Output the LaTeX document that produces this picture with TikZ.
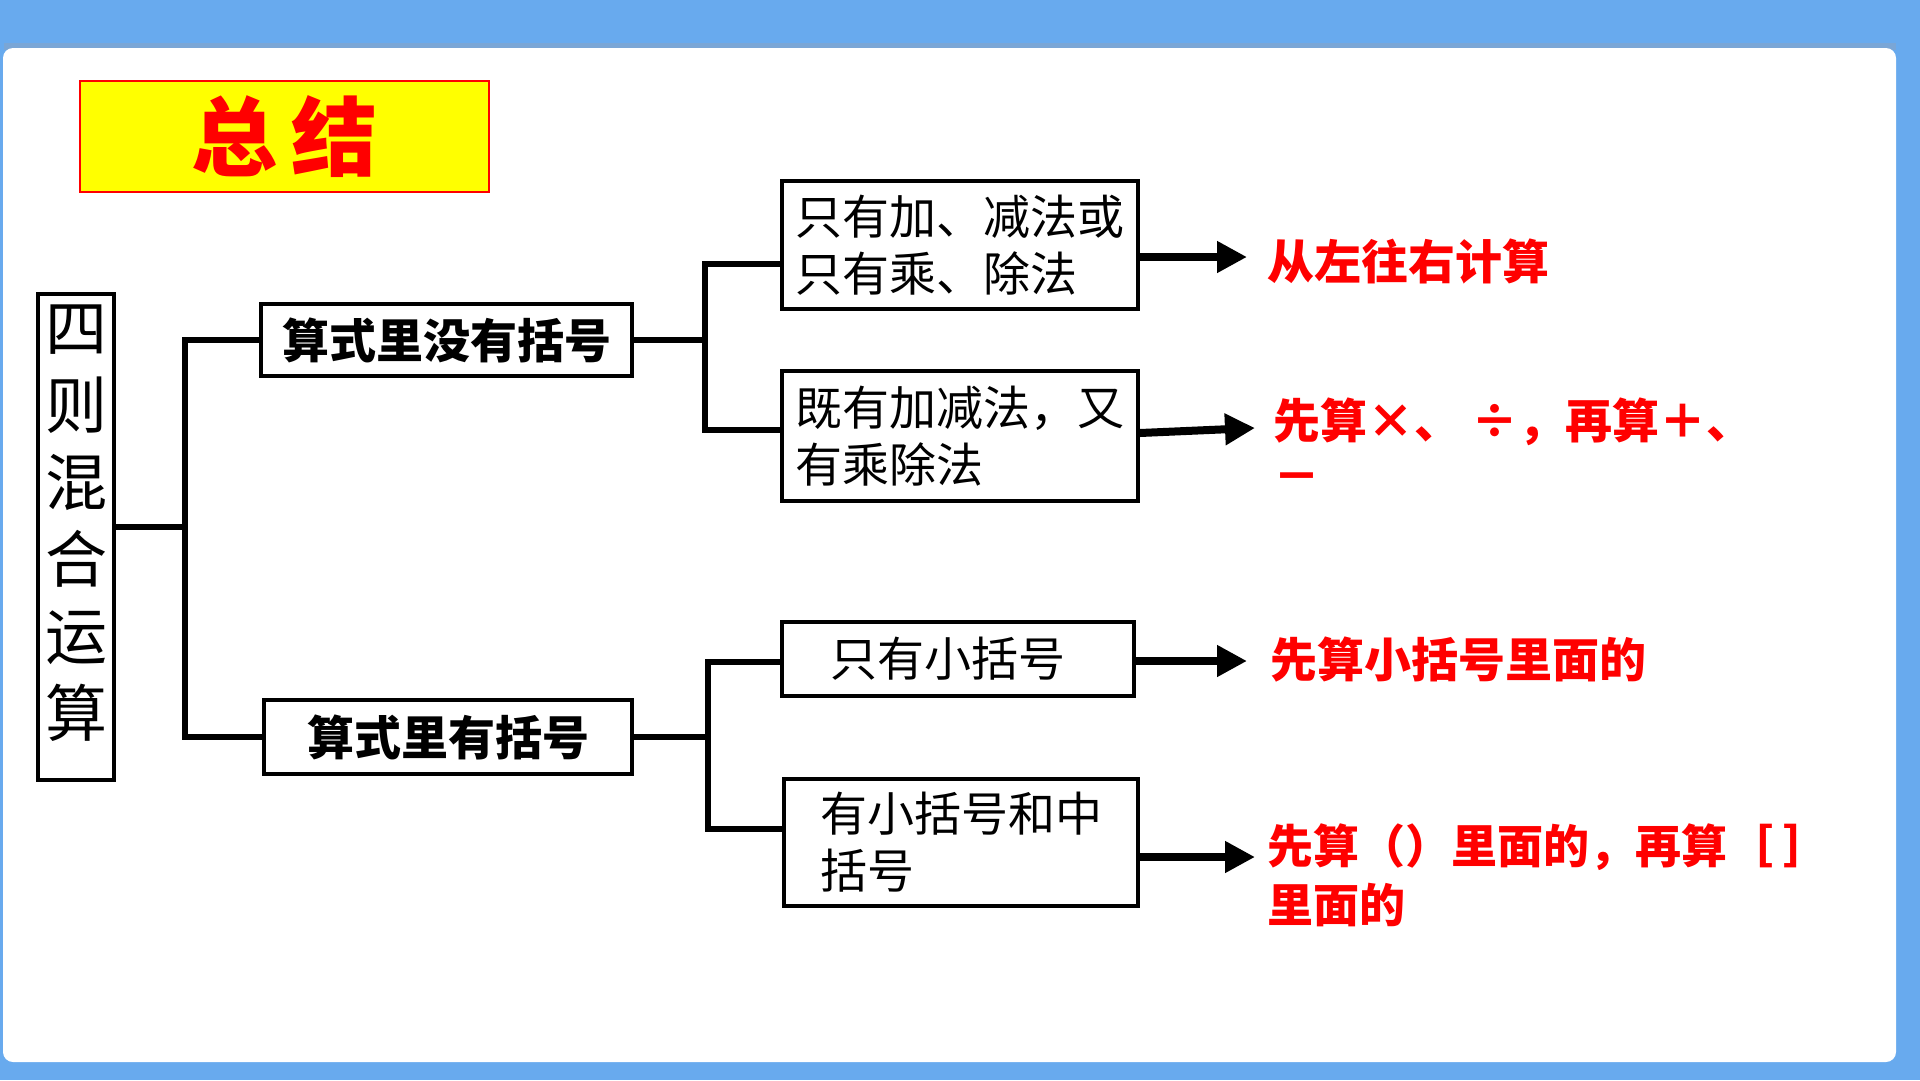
\documentclass[tikz,border=0pt]{standalone}
\usepackage{fontspec}
\newfontfamily\cjk{Noto Sans CJK SC}
\usetikzlibrary{arrows.meta}
\definecolor{bandblue}{HTML}{68AAEE}
\definecolor{bandshade}{HTML}{7AA6D6}
\definecolor{rred}{HTML}{FF0000}
\definecolor{tyellow}{HTML}{FFFF00}
\begin{document}
\begin{tikzpicture}[x=1pt,y=-1pt,
  box/.style={draw=black, line width=4pt, fill=white, inner sep=0pt, align=left,
    font=\cjk\fontsize{47}{57}\selectfont},
  boldbox/.style={box, font=\cjk\bfseries\fontsize{47}{57}\selectfont},
  conn/.style={draw=black, line width=5.5pt},
  arr/.style={draw=black, line width=8pt, -{Triangle[length=30pt,width=30pt]}},
  rtext/.style={text=rred, anchor=base west, inner sep=0pt, align=left,
    font=\cjk\bfseries\fontsize{47}{56}\selectfont}]
% background
\useasboundingbox (0,0) rectangle (1920,1080);
\fill[bandblue] (0,0) rectangle (1920,1080);
\fill[bandshade] (4,43) rectangle (1896,50);
\fill[white, rounded corners=10pt] (3,48) rectangle (1896,1062);
% title
\node[draw=rred, line width=1.5pt, fill=tyellow, minimum width=409pt, minimum height=111pt,
  inner sep=0pt, text=rred, font=\cjk\bfseries\fontsize{86}{90}\selectfont] (title) at (284.5,136.5) {总\hspace{14pt}结};
% root
\node[draw=black, line width=3.5pt, fill=white, minimum width=76pt, minimum height=486pt, inner sep=0pt] (root) at (76,537) {};
\node[inner sep=0pt, align=center, font=\cjk\fontsize{62}{77}\selectfont] (roottext) at (76,523) {四\\则\\混\\合\\运\\算};
% level 2
\node[boldbox, minimum width=371pt, minimum height=72pt] (A) at (446.5,340) {算式里没有括号};
\node[boldbox, minimum width=368pt, minimum height=74pt] (B) at (448,737) {算式里有括号};
% level 3
\node[box, minimum width=356pt, minimum height=128pt] (C) at (960,245) {只有加、减法或\\只有乘、除法};
\node[box, minimum width=356pt, minimum height=130pt] (D) at (960,436) {既有加减法，又\\有乘除法};
\node[box, minimum width=352pt, minimum height=74pt] (E) at (958,659) {只有小括号\hspace{20pt}};
\node[box, minimum width=354pt, minimum height=127pt] (F) at (961,842.5) {有小括号和中\\括号\hspace{16pt}};
% connectors
\coordinate (j0) at (185,527);
\draw[conn] (root.east |- j0) -- (j0);
\draw[conn] (A.west) -- (A.west -| j0) -- (B.west -| j0) -- (B.west);
\coordinate (kC) at (705,264);
\coordinate (kD) at (705,430);
\draw[conn] (A.east) -- (A.east -| kC);
\draw[conn] (C.west |- kC) -- (kC) -- (kD) -- (D.west |- kD);
\coordinate (kE) at (708,662);
\coordinate (kF) at (708,829);
\draw[conn] (B.east) -- (B.east -| kE);
\draw[conn] (E.west |- kE) -- (kE) -- (kF) -- (F.west |- kF);
% results
\node[rtext] (rC) at (1267,279) {从左往右计算};
\node[rtext, font=\cjk\bfseries\fontsize{47}{55}\selectfont] (rD) at (1273,493) {先算×、 ÷，再算＋、\\－};
\node[rtext] (rE) at (1270,677) {先算小括号里面的};
\node[rtext, font=\cjk\bfseries\fontsize{46}{59}\selectfont] (rF) at (1267,922) {先算（）里面的，再算［\hspace{10pt}］\\里面的};
% arrows
\coordinate (tC) at (1247,257);
\coordinate (tD) at (1255,428);
\coordinate (tE) at (1247,661);
\coordinate (tF) at (1255,857);
\draw[arr] (C.east |- tC) -- (tC);
\draw[arr] ([yshift=3pt]D.east) -- (tD);
\draw[arr] (E.east |- tE) -- (tE);
\draw[arr] (F.east |- tF) -- (tF);
\end{tikzpicture}
\end{document}
